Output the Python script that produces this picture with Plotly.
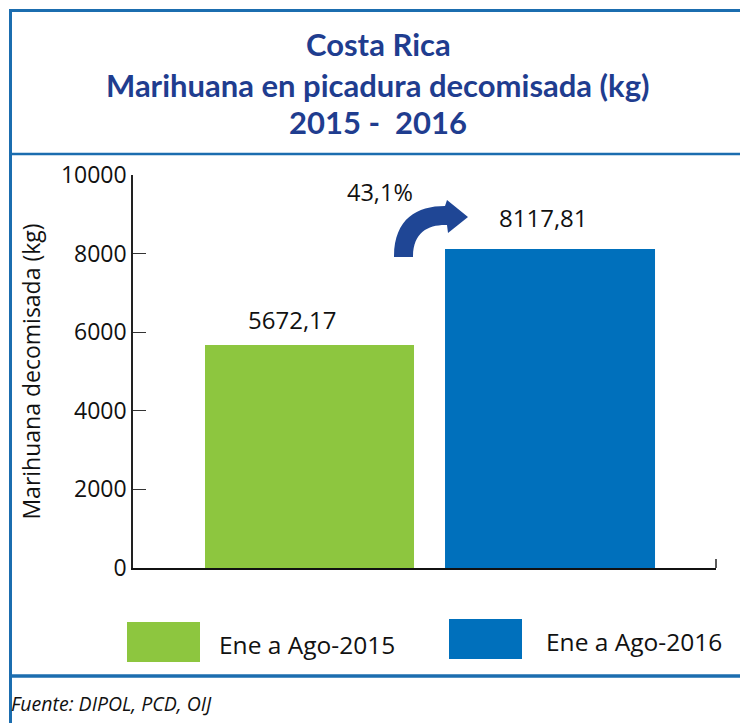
import plotly.graph_objects as go

# data
series_names = ["Ene a Ago-2015", "Ene a Ago-2016"]
series_values = [5672.17, 8117.81]
series_colors = ["#8DC63F", "#0070BC"]
change_label = "43,1%"
y_ticks = [0, 2000, 4000, 6000, 8000, 10000]

title_lines = ["Costa Rica", "Marihuana en picadura decomisada (kg)", "2015 -\u00a0 2016"]
source_text = "Fuente: DIPOL, PCD, OIJ"

W, H = 740, 723
L, R, T, B = 133, 24, 175, 155
PW, PH = W - L - R, H - T - B


def px(x):
    return (x - L) / PW


def py(y):
    return (H - B - y) / PH


fig = go.Figure()

# bar placement inside the single category
bar_offsets = [-0.3765, 0.0352]
bar_widths = [0.3585, 0.3602]
label_shift = [(-17, 7), (-7, 13)]

for name, val, col, off, wd in zip(series_names, series_values, series_colors, bar_offsets, bar_widths):
    fig.add_trace(go.Bar(
        x=[0], y=[val], name=name,
        marker=dict(color=col, line=dict(width=0)),
        offset=off, width=wd,
        showlegend=False, hoverinfo="name+y"
    ))

annotations = []
for val, off, wd, (dx, dy) in zip(series_values, bar_offsets, bar_widths, label_shift):
    annotations.append(dict(
        x=off + wd / 2, y=val, xref="x", yref="y",
        text=f"{val:.2f}".replace(".", ","), showarrow=False,
        yanchor="bottom", xshift=dx, yshift=dy,
        font=dict(family="Open Sans", size=24, color="#111111")
    ))

# title lines
for line, ypix, in zip(title_lines, [44, 85, 122]):
    annotations.append(dict(
        x=px(378), y=py(ypix), xref="paper", yref="paper",
        text=f"<b>{line}</b>", showarrow=False, xanchor="center", yanchor="middle",
        font=dict(family="Lato", size=31, color="#1F3D8F")
    ))

# percentage change
annotations.append(dict(
    x=px(380), y=py(192), xref="paper", yref="paper", text=change_label,
    showarrow=False, xanchor="center", yanchor="middle",
    font=dict(family="Open Sans", size=23.5, color="#111111")
))

# legend
leg_boxes = [(127, 622, 200, 662), (449, 619, 522, 659)]
leg_text_x = [217, 544]
shapes = []
for name, col, (x0, y0, x1, y1), tx in zip(series_names, series_colors, leg_boxes, leg_text_x):
    shapes.append(dict(type="rect", xref="paper", yref="paper",
                       x0=px(x0), x1=px(x1), y0=py(y1), y1=py(y0),
                       fillcolor=col, line=dict(width=0)))
    annotations.append(dict(
        x=px(tx), y=py((y0 + y1) / 2 + 2), xref="paper", yref="paper", text=name,
        showarrow=False, xanchor="left", yanchor="middle",
        font=dict(family="Open Sans", size=24.5, color="#111111")
    ))

# source note
annotations.append(dict(
    x=px(9), y=py(703), xref="paper", yref="paper", text=f"<i>{source_text}</i>",
    showarrow=False, xanchor="left", yanchor="middle",
    font=dict(family="Open Sans", size=19.5, color="#111111")
))

# frame lines
frame = "#1B6DAF"
shapes += [
    dict(type="line", xref="paper", yref="paper", x0=px(9), x1=px(745), y0=py(10.5), y1=py(10.5),
         line=dict(color=frame, width=3)),
    dict(type="line", xref="paper", yref="paper", x0=px(10.5), x1=px(10.5), y0=py(9), y1=py(730),
         line=dict(color=frame, width=3)),
    dict(type="line", xref="paper", yref="paper", x0=px(9), x1=px(745), y0=py(154), y1=py(154),
         line=dict(color=frame, width=2.5)),
    dict(type="line", xref="paper", yref="paper", x0=px(9), x1=px(745), y0=py(676), y1=py(676),
         line=dict(color=frame, width=3.5)),
    # tick at the right end of the x axis
    dict(type="line", xref="paper", yref="paper", x0=1, x1=1, y0=0, y1=py(559),
         line=dict(color="#222222", width=1.5)),
]

# curved arrow
cx, cy, Ro, Ri = 445, 257, 51, 32
path = (f"M {px(cx - Ro)},{py(cy)} "
        f"C {px(cx - Ro)},{py(cy - Ro * 0.75)} {px(cx - Ro * 0.55)},{py(cy - Ro)} {px(cx)},{py(cy - Ro)} "
        f"L {px(cx + 2)},{py(cy - 57)} L {px(468)},{py(217)} L {px(cx + 3)},{py(233)} "
        f"L {px(cx + 2)},{py(cy - Ri)} L {px(cx)},{py(cy - Ri)} "
        f"C {px(cx - Ri * 0.55)},{py(cy - Ri)} {px(cx - Ri)},{py(cy - Ri * 0.75)} {px(cx - Ri)},{py(cy)} Z")
shapes.append(dict(type="path", xref="paper", yref="paper", path=path,
                   fillcolor="#1F4695", line=dict(width=0)))

fig.update_layout(
    width=W, height=H,
    margin=dict(l=L, r=R, t=T, b=B),
    plot_bgcolor="white", paper_bgcolor="white",
    barmode="overlay",
    font=dict(family="Open Sans", color="#111111"),
    xaxis=dict(range=[-0.5, 0.5], showgrid=False, zeroline=False, showticklabels=False,
               showline=True, linecolor="#111111", linewidth=1.5, ticks="", layer="below traces",
               fixedrange=True),
    yaxis=dict(range=[0, 10000], tickvals=y_ticks, tickformat="d", showgrid=False, zeroline=False,
               showline=True, linecolor="#222222", linewidth=1.5, ticks="inside", ticklen=13,
               tickwidth=1.2, tickcolor="#333333", tickfont=dict(size=23, color="#111111"),
               title=dict(text="Marihuana decomisada (kg)", font=dict(size=23, color="#111111"),
                          standoff=14),
               fixedrange=True),
    shapes=shapes,
    annotations=annotations,
)

fig.write_html("out.html", config={"displayModeBar": False},
               post_script="document.body.style.margin='0';")
